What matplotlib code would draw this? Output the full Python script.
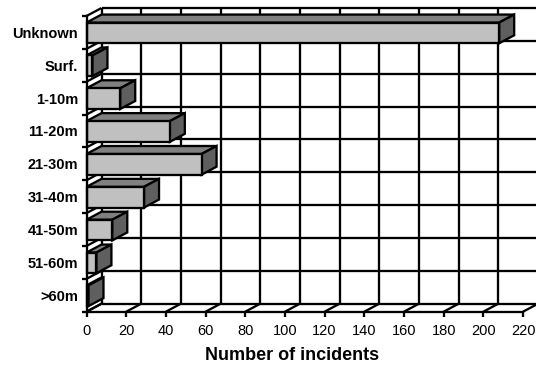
import matplotlib
matplotlib.use("Agg")
import matplotlib.pyplot as plt
from matplotlib.patches import Polygon

# ---- data ----
categories = ["Unknown", "Surf.", "1-10m", "11-20m", "21-30m", "31-40m", "41-50m", "51-60m", ">60m"]
incidents = [208, 3, 17, 42, 58, 29, 13, 5, 1]
xticks = list(range(0, 221, 20))

plt.rcParams["font.family"] = ["Liberation Sans", "DejaVu Sans"]

W, H = 536, 365
fig = plt.figure(figsize=(W / 100, H / 100), dpi=100)
x0_px, x1_px = 86.5, 523.0
ytop_px, ybot_px = 16.0, 311.7
ax = fig.add_axes([x0_px / W, (H - ybot_px) / H, (x1_px - x0_px) / W, (ybot_px - ytop_px) / H])
ax.set_xlim(0, 220)
ax.set_ylim(len(categories), 0)

# depth offset (3d look) in data units
px_per_x = (x1_px - x0_px) / 220
px_per_cat = (ybot_px - ytop_px) / len(categories)
dx = 15 / px_per_x
dy = 8 / px_per_cat

lw = 1.65
n = len(categories)
line_kw = dict(color="black", lw=lw, clip_on=False, solid_capstyle="butt")

# ---- back wall gridlines ----
for v in xticks:
    ax.plot([v + dx, v + dx], [-dy, n - dy], **line_kw, zorder=1)
for b in range(n + 1):
    ax.plot([dx, 220 + dx + 10], [b - dy, b - dy], **line_kw, zorder=1)
    # left wall
    ax.plot([0, dx], [b, b - dy], **line_kw, zorder=1)
# floor
for v in xticks:
    ax.plot([v, v + dx], [n, n - dy], **line_kw, zorder=1)

# ---- bars ----
front_c, top_c, side_c = "#C0C0C0", "#808080", "#5F5F5F"
for i, val in enumerate(incidents):
    top = i + 0.2
    bot = i + 0.83
    front = Polygon([(0, top), (val, top), (val, bot), (0, bot)], closed=True)
    topf = Polygon([(0, top), (val, top), (val + dx, top - dy), (dx, top - dy)], closed=True)
    side = Polygon([(val, top), (val, bot), (val + dx, bot - dy), (val + dx, top - dy)], closed=True)
    for p, c in ((topf, top_c), (side, side_c), (front, front_c)):
        p.set_facecolor(c)
        p.set_edgecolor("black")
        p.set_linewidth(lw)
        p.set_joinstyle("miter")
        p.set_clip_on(False)
        p.set_zorder(3)
        ax.add_patch(p)

# ---- axes ----
for s in ("top", "right"):
    ax.spines[s].set_visible(False)
for s in ("left", "bottom"):
    ax.spines[s].set_linewidth(lw)
    ax.spines[s].set_zorder(4)

ax.set_xticks(xticks)
ax.set_xticklabels([str(v) for v in xticks], fontsize=10.5)
ax.tick_params(axis="x", direction="out", length=3.6, width=lw, pad=5)

ax.set_yticks([i + 0.5 for i in range(n)])
ax.set_yticklabels(categories, fontsize=10.5, fontweight="bold")
ax.set_yticks(range(n + 1), minor=True)
ax.tick_params(axis="y", which="major", length=0, pad=6)
ax.tick_params(axis="y", which="minor", direction="out", length=3.6, width=lw)

ax.text((292.5 - x0_px) / (x1_px - x0_px), -(355 - ybot_px) / (ybot_px - ytop_px),
        "Number of incidents", transform=ax.transAxes, ha="center", va="center",
        fontsize=13, fontweight="bold")

ax.set_facecolor("none")
fig.savefig("out.png", dpi=100)
